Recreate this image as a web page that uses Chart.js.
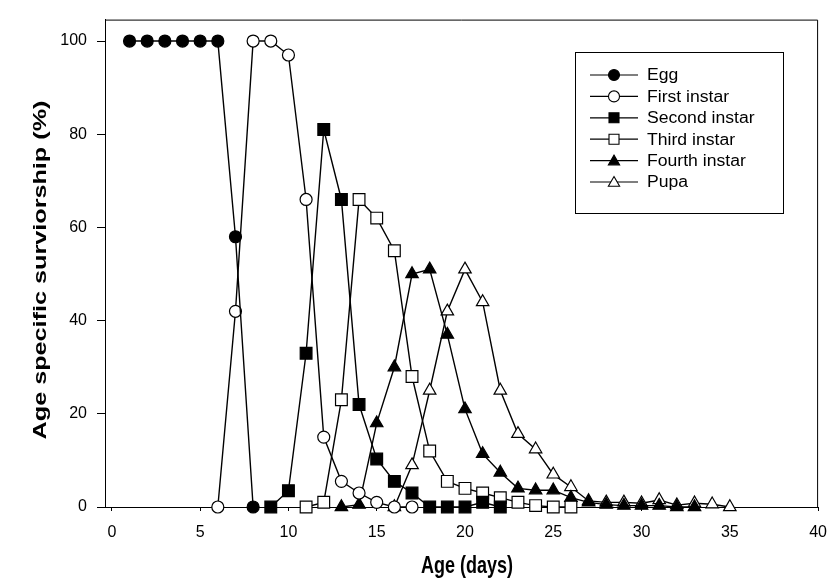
<!DOCTYPE html>
<html>
<head>
<meta charset="utf-8">
<script src="https://cdn.jsdelivr.net/npm/chart.js@4.4.0/dist/chart.umd.min.js"></script>
<style>
  html, body { margin: 0; padding: 0; background: #fff; }
  #wrap { width: 839px; height: 584px; }
</style>
</head>
<body>
<div id="wrap"><canvas id="chart" width="839" height="584"></canvas></div>
<script>
// Age specific survivorship by stage
const xTicks = [0, 5, 10, 15, 20, 25, 30, 35, 40];
const yTicks = [0, 20, 40, 60, 80, 100];

const eggDays = [1, 2, 3, 4, 5, 6, 7, 8];
const eggVals = [100, 100, 100, 100, 100, 100, 58, 0];

const firstDays = [6, 7, 8, 9, 10, 11, 12, 13, 14, 15, 16, 17];
const firstVals = [0, 42, 100, 100, 97, 66, 15, 5.5, 3, 1, 0, 0];

const secondDays = [9, 10, 11, 12, 13, 14, 15, 16, 17, 18, 19, 20, 21, 22];
const secondVals = [0, 3.5, 33, 81, 66, 22, 10.3, 5.5, 3, 0, 0, 0, 1, 0];

const thirdDays = [11, 12, 13, 14, 15, 16, 17, 18, 19, 20, 21, 22, 23, 24, 25, 26];
const thirdVals = [0, 1, 23, 66, 62, 55, 28, 12, 5.5, 4, 3, 2, 1, 0.3, 0, 0];

const fourthDays = [13, 14, 15, 16, 17, 18, 19, 20, 21, 22, 23, 24, 25, 26, 27, 28, 29, 30, 31, 32, 33];
const fourthVals = [0, 0.5, 18, 30, 50, 51, 37, 21, 11.4, 7.4, 4, 3.6, 3.6, 2, 1, 0.5, 0.3, 0.3, 0.3, 0, 0];

const pupaDays = [16, 17, 18, 19, 20, 21, 22, 23, 24, 25, 26, 27, 28, 29, 30, 31, 32, 33, 34, 35];
const pupaVals = [0, 9, 25, 42, 51, 44, 25, 15.7, 12.4, 7, 4.3, 1.3, 1, 1, 0.8, 1.5, 0.4, 0.8, 0.6, 0];

const seriesNames = ['Egg', 'First instar', 'Second instar', 'Third instar', 'Fourth instar', 'Pupa'];
const xTitle = 'Age (days)';
const yTitle = 'Age specific surviorship (%)';

const FONT = '"Liberation Sans", Arial, Helvetica, sans-serif';

function pts(days, vals) {
    return days.map((d, i) => ({ x: d, y: vals[i] }));
}

const styles = [
    { shape: 'circle', fill: '#000', r: 6 },
    { shape: 'circle', fill: '#fff', r: 6 },
    { shape: 'rect', fill: '#000', r: 8.3 },
    { shape: 'rect', fill: '#fff', r: 8.3 },
    { shape: 'triangle', fill: '#000', r: 7.2 },
    { shape: 'triangle', fill: '#fff', r: 7.2 }
];
const seriesData = [
    pts(eggDays, eggVals),
    pts(firstDays, firstVals),
    pts(secondDays, secondVals),
    pts(thirdDays, thirdVals),
    pts(fourthDays, fourthVals),
    pts(pupaDays, pupaVals)
];

const datasets = seriesNames.map((name, i) => ({
    label: name,
    data: seriesData[i],
    borderColor: '#000',
    borderWidth: 1.4,
    backgroundColor: styles[i].fill,
    pointStyle: styles[i].shape,
    pointRadius: styles[i].r,
    pointHoverRadius: styles[i].r,
    pointBorderColor: '#000',
    pointBackgroundColor: styles[i].fill,
    pointBorderWidth: 1.2,
    tension: 0,
    clip: false
}));

// small marker for the legend
function marker(ctx, shape, x, y, r, fill) {
    ctx.beginPath();
    if (shape === 'circle') {
        ctx.arc(x, y, r, 0, Math.PI * 2);
    } else if (shape === 'rect') {
        ctx.rect(x - r, y - r, 2 * r, 2 * r);
    } else {
        ctx.moveTo(x, y - r);
        ctx.lineTo(x + r * 0.866, y + r * 0.5);
        ctx.lineTo(x - r * 0.866, y + r * 0.5);
        ctx.closePath();
    }
    ctx.fillStyle = fill;
    ctx.fill();
    ctx.lineWidth = 1.1;
    ctx.strokeStyle = '#000';
    ctx.stroke();
}

const extras = {
    id: 'extras',
    afterDraw(chart) {
        const ctx = chart.ctx;
        const a = chart.chartArea;
        ctx.save();
        // top and right frame
        ctx.strokeStyle = '#000';
        ctx.lineWidth = 1;
        ctx.beginPath();
        ctx.moveTo(a.left, a.top + 0.5);
        ctx.lineTo(a.right - 0.5, a.top + 0.5);
        ctx.lineTo(a.right - 0.5, a.bottom);
        ctx.stroke();

        // legend box
        ctx.strokeRect(575.5, 52.5, 208, 161);
        const legendSizes = [5.5, 5.5, 5, 5, 6.5, 6.5];
        seriesNames.forEach((name, i) => {
            const y = 75 + i * 21.4;
            ctx.beginPath();
            ctx.moveTo(590, y);
            ctx.lineTo(638, y);
            ctx.lineWidth = 1.2;
            ctx.strokeStyle = '#000';
            ctx.stroke();
            marker(ctx, styles[i].shape, 614, styles[i].shape === 'triangle' ? y + 1 : y, legendSizes[i], styles[i].fill);
            ctx.save();
            ctx.translate(647, y);
            ctx.scale(1.1, 1);
            ctx.fillStyle = '#000';
            ctx.font = '16px ' + FONT;
            ctx.textAlign = 'left';
            ctx.textBaseline = 'middle';
            ctx.fillText(name, 0, 1);
            ctx.restore();
        });

        // axis titles
        ctx.fillStyle = '#000';
        ctx.font = 'bold 18px ' + FONT;
        ctx.textAlign = 'center';
        ctx.textBaseline = 'middle';
        ctx.save();
        ctx.translate(467, 567);
        ctx.scale(1, 1.3);
        ctx.fillText(xTitle, 0, 0);
        ctx.restore();
        ctx.save();
        ctx.translate(41, 270);
        ctx.rotate(-Math.PI / 2);
        ctx.scale(1.4, 1);
        ctx.fillText(yTitle, 0, 0);
        ctx.restore();
        ctx.restore();
    }
};

new Chart(document.getElementById('chart').getContext('2d'), {
    type: 'line',
    data: { datasets: datasets },
    options: {
        responsive: false,
        animation: false,
        events: [],
        layout: { padding: { left: 0, top: 10, right: 11, bottom: 0 } },
        plugins: {
            legend: { display: false },
            tooltip: { enabled: false }
        },
        scales: {
            x: {
                type: 'linear',
                min: -0.39,
                max: 40,
                afterBuildTicks: s => { s.ticks = xTicks.map(v => ({ value: v })); },
                afterFit: s => { s.height = 77; },
                border: { display: true, color: '#000', width: 1 },
                grid: { drawOnChartArea: false, drawTicks: true, tickLength: 4, color: '#000' },
                ticks: { color: '#000', padding: 12, maxRotation: 0, font: { family: FONT, size: 16 } }
            },
            y: {
                type: 'linear',
                min: 0,
                max: 104.6,
                afterBuildTicks: s => { s.ticks = yTicks.map(v => ({ value: v })); },
                afterFit: s => { s.width = 105; },
                border: { display: true, color: '#000', width: 1 },
                grid: { drawOnChartArea: false, drawTicks: true, tickLength: 8, color: '#000' },
                ticks: { color: '#000', padding: 10, font: { family: FONT, size: 16 } }
            }
        }
    },
    plugins: [extras]
});
</script>
</body>
</html>
